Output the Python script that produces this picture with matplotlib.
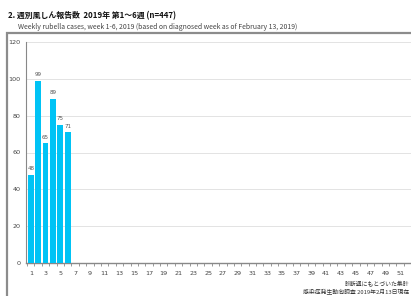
import numpy as np
import matplotlib.pyplot as plt
from matplotlib.patches import Rectangle

plt.rcParams['font.family'] = ['Noto Sans CJK JP', 'DejaVu Sans']

# データ
weeks = np.arange(1, 53)
cases_weeks = [1, 2, 3, 4, 5, 6]
cases = [48, 99, 65, 89, 75, 71]
tick_labels = [str(w) for w in range(1, 53, 2)]

fig = plt.figure(figsize=(4.11, 2.96), dpi=100)

# 外枠
W, H = 411, 296
fig.patches.append(Rectangle((7 / W, -0.1), 1.2, (H - 33) / H + 0.1,
                             transform=fig.transFigure, fill=False,
                             edgecolor='#8c8c8c', linewidth=1.6))

fig.text(8 / W, 1 - 16 / H, '2. 週別風しん報告数  2019年 第1～6週 (n=447)',
         fontsize=5.7, fontweight='bold', va='center', color='#111111')
fig.text(18 / W, 1 - 27 / H,
         'Weekly rubella cases, week 1-6, 2019 (based on diagnosed week as of February 13, 2019)',
         fontsize=4.95, va='center', color='#444444')

ax = fig.add_axes([26 / W, (H - 263) / H, 400 / W, 221 / H])
ax.bar(cases_weeks, cases, width=0.78, color='#00c3f5', zorder=3)
for w, v in zip(cases_weeks, cases):
    ax.text(w, v + 2, str(v), ha='center', va='bottom', fontsize=4,
            color='#555555', family='DejaVu Sans')

ax.set_xlim(0.35, 54.5)
ax.set_ylim(0, 120)
ax.set_yticks(range(0, 121, 20))
ax.set_xticks(range(1, 53, 2))
ax.set_xticklabels(tick_labels)
ax.set_xticks(np.arange(0.5, 53, 1), minor=True)
ax.tick_params(axis='both', labelsize=4.6, colors='#444444', length=0, pad=6)
ax.tick_params(axis='x', which='minor', length=2, color='#888888')
ax.tick_params(axis='y', pad=4)
for lab in ax.get_xticklabels() + ax.get_yticklabels():
    lab.set_family('DejaVu Sans')
ax.grid(axis='y', color='#e3e3e3', linewidth=0.7, zorder=0)
for s in ['top', 'right']:
    ax.spines[s].set_visible(False)
ax.spines['left'].set_color('#888888')
ax.spines['bottom'].set_color('#888888')
ax.spines['left'].set_linewidth(0.8)
ax.spines['bottom'].set_linewidth(1.0)

fig.text(409 / W, 1 - 283 / H, '診断週にもとづいた集計', fontsize=4.2, va='center',
         ha='right', color='#333333')
fig.text(409 / W, 1 - 291 / H, '感染症発生動向調査 2019年2月13日現在', fontsize=4.2,
         va='center', ha='right', color='#333333')

fig.savefig('out.png', dpi=100)
